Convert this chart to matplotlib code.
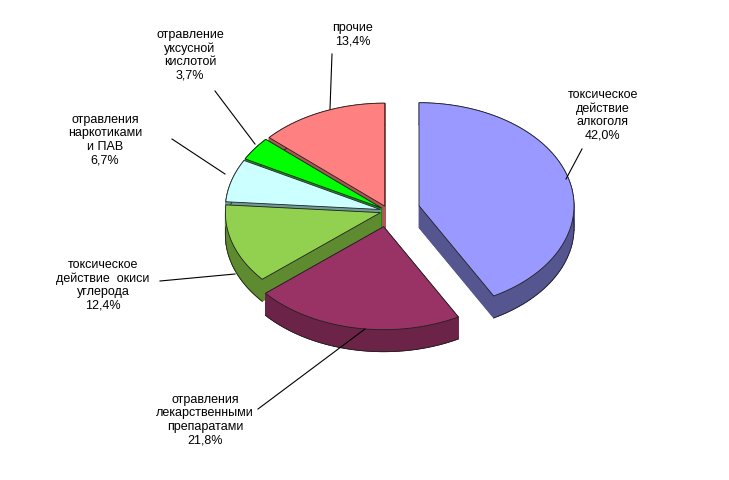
import matplotlib
matplotlib.use("Agg")
import matplotlib.pyplot as plt
import numpy as np
from matplotlib.patches import Polygon

labels = ["токсическое\nдействие\nалкоголя\n42,0%",
          "отравления\nлекарственными\nпрепаратами\n21,8%",
          "токсическое\nдействие  окиси\nуглерода\n12,4%",
          "отравления\nнаркотиками\nи ПАВ\n6,7%",
          "отравление\nуксусной\nкислотой\n3,7%",
          "прочие\n13,4%"]
shares = [42.0, 21.8, 12.4, 6.7, 3.7, 13.4]
top_colors = ["#9999FF", "#993366", "#92D050", "#CCFFFF", "#00FF00", "#FF8080"]
side_colors = ["#55558F", "#6B2447", "#5E8A30", "#6F9A9A", "#009900", "#B05555"]
explode = [32, 24, 8, 8, 8, 8]
label_pos = [(603, 115), (205, 420), (103, 285), (105, 140), (190, 55), (353, 35)]
leader = [((566, 180), (582, 150)), ((258, 410), (365, 330)), ((160, 282), (235, 275)),
          ((172, 140), (225, 175)), ((215, 92), (255, 145)), ((332, 55), (330, 110))]

cx, cy, rx, ry, depth = 388, 212, 155, 103, 22

fig = plt.figure(figsize=(7.29, 4.81), dpi=100)
ax = fig.add_axes([0, 0, 1, 1])
ax.set_xlim(0, 729)
ax.set_ylim(481, 0)
ax.axis("off")

bounds = np.concatenate([[0], np.cumsum(shares)]) / 100 * 2 * np.pi
slices = []
for i in range(len(shares)):
    a0, a1 = bounds[i], bounds[i + 1]
    mid = (a0 + a1) / 2
    ox, oy = cx + explode[i] * np.sin(mid), cy - explode[i] * np.cos(mid) * ry / rx
    t = np.linspace(a0, a1, 80)
    pts = np.column_stack([ox + rx * np.sin(t), oy - ry * np.cos(t)])
    poly = np.vstack([[ox, oy], pts])
    slices.append((oy - np.cos(mid) * 40, i, poly))

z = 1
for _, i, poly in sorted(slices):
    n = len(poly)
    shifted = poly + [0, depth]
    for k in range(n):
        p, q = poly[k], poly[(k + 1) % n]
        quad = [p, q, q + [0, depth], p + [0, depth]]
        ax.add_patch(Polygon(quad, closed=True, facecolor=side_colors[i],
                             edgecolor=side_colors[i], lw=0.6, zorder=z))
    ax.add_patch(Polygon(shifted, closed=True, facecolor=side_colors[i],
                         edgecolor="none", zorder=z))
    ax.plot(shifted[1:, 0], shifted[1:, 1], color="#202020", lw=0.6, zorder=z + 0.5)
    ax.add_patch(Polygon(poly, closed=True, facecolor=top_colors[i],
                         edgecolor="#202020", lw=0.6, zorder=z + 0.8))
    z += 1

for i, lab in enumerate(labels):
    ax.text(*label_pos[i], lab, ha="center", va="center", fontsize=9,
            family="Liberation Sans", linespacing=1.15, zorder=20)
    (x0, y0), (x1, y1) = leader[i]
    ax.plot([x0, x1], [y0, y1], color="black", lw=0.8, zorder=20)

fig.savefig("out.png", dpi=100)
